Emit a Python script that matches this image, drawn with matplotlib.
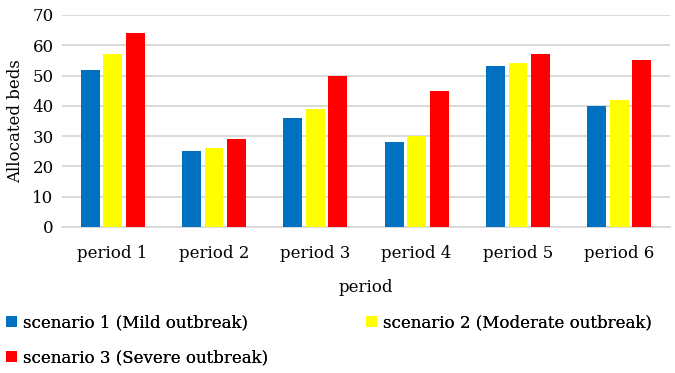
import matplotlib
matplotlib.use("Agg")
import matplotlib.pyplot as plt
import numpy as np

categories = ["period 1", "period 2", "period 3", "period 4", "period 5", "period 6"]
mild = [52, 25, 36, 28, 53, 40]
moderate = [57, 26, 39, 30, 54, 42]
severe = [64, 29, 50, 45, 57, 55]
series_names = ["scenario 1 (Mild outbreak)",
                "scenario 2 (Moderate outbreak)",
                "scenario 3 (Severe outbreak)"]
colors = ["#0070C0", "#FFFF00", "#FF0000"]

plt.rcParams["font.family"] = ["DejaVu Serif"]

W, H = 675, 373
fig = plt.figure(figsize=(W / 100, H / 100), dpi=100)
ax = fig.add_axes([62 / W, 1 - 227 / H, 608 / W, 212 / H])

x = np.arange(len(categories))
w = 0.185
step = 0.222
handles = []
for i, (vals, c, name) in enumerate(zip([mild, moderate, severe], colors, series_names)):
    h = ax.bar(x + (i - 1) * step, vals, width=w, color=c, label=name, zorder=3)
    handles.append(h)

ax.set_xlim(-0.5, len(categories) - 0.5)
ax.set_ylim(0, 70)
ax.set_yticks(np.arange(0, 71, 10))
ax.set_xticks(x)
ax.set_xticklabels(categories)
ax.yaxis.grid(True, color="#D9D9D9", linewidth=1.4, zorder=0)
ax.set_axisbelow(True)
for s in ["top", "right", "left"]:
    ax.spines[s].set_visible(False)
ax.spines["bottom"].set_color("#D9D9D9")
ax.spines["bottom"].set_linewidth(1.4)
ax.tick_params(axis="both", length=0, labelsize=12, colors="#000000")
ax.tick_params(axis="x", pad=13)
ax.tick_params(axis="y", pad=6)

ax.set_ylabel("Allocated beds", fontsize=12, labelpad=6)
ax.set_xlabel("period", fontsize=12, labelpad=12)

# legend entries laid out in two rows: (x of marker left, y of row centre) in pixels
legend_slots = [(6, 323), (366, 323), (6, 358)]
for h, name, (px, py) in zip(handles, series_names, legend_slots):
    leg = fig.legend(handles=[h], labels=[name], loc="center left",
                     bbox_to_anchor=(px / W, 1 - py / H), frameon=False,
                     fontsize=12, handlelength=0.68, handleheight=0.68,
                     handletextpad=0.35, borderaxespad=0.0, borderpad=0.0)
    fig.add_artist(leg)

fig.savefig("out.png", dpi=100, facecolor="white")
